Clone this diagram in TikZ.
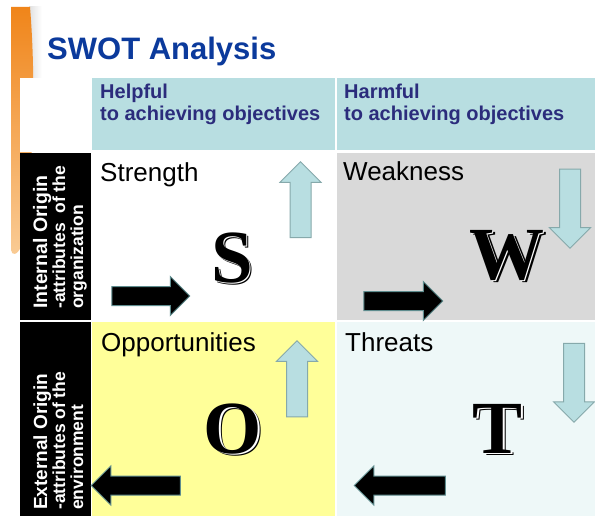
\documentclass[tikz,border=0pt]{standalone}
\usepackage{fontspec}
\setmainfont{Liberation Sans}
\newfontfamily\letterfont{Liberation Serif}
\usetikzlibrary{positioning, shapes.arrows, calc}

\definecolor{titleblue}{HTML}{0B3A9C}
\definecolor{headnavy}{HTML}{2B2C7C}
\definecolor{headfill}{HTML}{B8DEE1}
\definecolor{weakfill}{HTML}{D9D9D9}
\definecolor{oppfill}{HTML}{FFFF99}
\definecolor{threatfill}{HTML}{EEF8F8}
\definecolor{arrowfill}{HTML}{B8DEE1}
\definecolor{arrowedge}{HTML}{86A9AB}
\definecolor{darkedge}{HTML}{5E8C8E}
\definecolor{swoosh}{HTML}{F0851A}
\definecolor{swooshlight}{HTML}{F6A94F}

\begin{document}
\begin{tikzpicture}[
    x=1pt, y=-1pt,
    cell/.style={inner sep=0pt, outer sep=0pt, anchor=north west},
    celltitle/.style={inner sep=0pt, anchor=base west, font=\fontsize{26}{30}\selectfont},
    headtext/.style={inner sep=0pt, anchor=base west, align=left, text=headnavy,
        font=\bfseries\fontsize{20}{22}\selectfont},
    sidetext/.style={inner sep=0pt, rotate=90, anchor=base west, align=left, text=white,
        font=\bfseries\fontsize{17.5}{18}\selectfont},
    blockarrow/.style={single arrow, inner xsep=0pt, single arrow head extend=10pt, line width=1pt},
    blackarrow/.style={blockarrow, fill=black, draw=darkedge, inner ysep=9pt},
    bluearrow/.style={blockarrow, fill=arrowfill, draw=arrowedge, inner ysep=10pt},
    bigletter/.style={inner sep=0pt, font=\letterfont\bfseries\fontsize{75}{75}\selectfont}
]

\useasboundingbox (0,0) rectangle (595,516);
\fill[white] (0,0) rectangle (595,516);

% --- orange swoosh at the left edge ---
\shade[left color=black!12, right color=white] (29,7) rectangle (42,78);
\shade[top color=swoosh, bottom color=swooshlight!60]
    (11,7) -- (30,7) .. controls (36,80) and (34,170) .. (22,245)
    .. controls (17,256) and (12,256) .. (11,250) -- cycle;

% --- title ---
\node[inner sep=0pt, anchor=base west, text=titleblue, font=\bfseries\fontsize{31}{34}\selectfont]
    (title) at (47,60) {SWOT Analysis};

% --- grid ---
\node[cell, fill=white, minimum width=72pt, minimum height=74pt] (corner) at (20,78) {};
\node[cell, fill=headfill, minimum width=243pt, minimum height=72pt] (help) at (92,78) {};
\node[cell, fill=headfill, minimum width=258pt, minimum height=72pt] (harm) at (337,78) {};
\node[cell, fill=black, minimum width=71pt, minimum height=167pt] (int) at (20,153) {};
\node[cell, fill=black, minimum width=71pt, minimum height=194pt] (ext) at (20,322) {};
\node[cell, fill=white, minimum width=243pt, minimum height=167pt] (s) at (92,153) {};
\node[cell, fill=weakfill, minimum width=258pt, minimum height=167pt] (w) at (337,153) {};
\node[cell, fill=oppfill, minimum width=243pt, minimum height=194pt] (o) at (92,322) {};
\node[cell, fill=threatfill, minimum width=258pt, minimum height=194pt] (t) at (337,322) {};

% --- headers (base = last line) ---
\node[headtext] (helptxt) at ($(help.north west)+(8,43)$) {Helpful\\to achieving objectives};
\node[headtext] (harmtxt) at ($(harm.north west)+(7,43)$) {Harmful\\to achieving objectives};

\node[sidetext] (inttxt) at ($(int.south west)+(63,-11)$)
    {{\fontsize{19.5}{20}\selectfont Internal Origin}\\-attributes~ of the\\organization};
\node[sidetext] (exttxt) at ($(ext.south west)+(63,-6)$)
    {{\fontsize{19}{20}\selectfont External Origin}\\-attributes of the\\environment};

% --- quadrant titles ---
\node[celltitle] (stxt) at ($(s.north west)+(8,29)$) {Strength};
\node[celltitle] (wtxt) at ($(w.north west)+(6,28)$) {Weakness};
\node[celltitle] (otxt) at ($(o.north west)+(9,29)$) {Opportunities};
\node[celltitle] (ttxt) at ($(t.north west)+(8,29)$) {Threats};

% --- arrows ---
\node[blackarrow, minimum height=78pt] (sright) at (146,296) {};
\node[bluearrow, minimum height=76pt, rotate=90] (sup) at (300.5,205) {};
\node[blackarrow, minimum height=79pt] (wright) at (398.5,301) {};
\node[bluearrow, minimum height=79pt, rotate=-90] (wdown) at (570,203.5) {};
\node[bluearrow, minimum height=76pt, rotate=90] (oup) at (297,384) {};
\node[blackarrow, minimum height=89pt, rotate=180] (oleft) at (140.5,485.5) {};
\node[bluearrow, minimum height=79pt, rotate=-90] (tdown) at (574,377.5) {};
\node[blackarrow, minimum height=91pt, rotate=180] (tleft) at (404.5,485.5) {};

% --- engraved letters ---
\foreach \ch/\px/\py in {S/232/258, W/507/256, O/233/429, T/498/429} {
    \node[bigletter, text=black] (\ch shade) at (\px+2.6,\py+1.6) {\ch};
    \node[bigletter, text=white] (\ch gap) at (\px+1.3,\py+0.8) {\ch};
    \node[bigletter] (\ch letter) at (\px,\py) {\ch};
}

\end{tikzpicture}
\end{document}
